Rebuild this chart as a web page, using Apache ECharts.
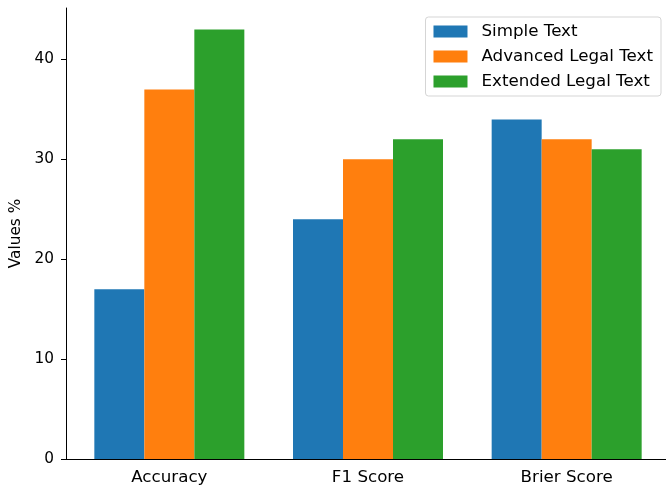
<!DOCTYPE html>
<html>
<head>
<meta charset="utf-8">
<script src="https://cdn.jsdelivr.net/npm/echarts@6/dist/echarts.min.js"></script>
<style>html,body{margin:0;padding:0;background:#fff;}#c{width:666px;height:487px;}</style>
</head>
<body>
<div id="c"></div>
<script>
const categories = ['Accuracy', 'F1 Score', 'Brier Score'];
const simpleText = [17, 24, 34];
const advancedLegalText = [37, 30, 32];
const extendedLegalText = [43, 32, 31];
const seriesNames = ['Simple Text', 'Advanced Legal Text', 'Extended Legal Text'];
const colors = ['#1f77b4', '#ff7f0e', '#2ca02c'];
const yTicks = [0, 10, 20, 30, 40];

const font = 'DejaVu Sans';
const chart = echarts.init(document.getElementById('c'), null, {renderer: 'canvas'});
const data = [simpleText, advancedLegalText, extendedLegalText];
chart.setOption({
  animation: false,
  backgroundColor: '#fff',
  textStyle: {fontFamily: font},
  grid: {left: 70, top: 8, bottom: 28, width: 598, containLabel: false},
  legend: {
    orient: 'vertical', right: 5, top: 17,
    padding: [6, 8, 6, 8],
    itemWidth: 34, itemHeight: 12, itemGap: 8,
    backgroundColor: '#fff', borderColor: '#d5d5d5', borderWidth: 1, borderRadius: 3,
    icon: 'rect',
    textStyle: {fontFamily: font, fontSize: 16.7, color: '#000', lineHeight: 17, padding: [0, 0, 0, 9]},
    data: seriesNames
  },
  xAxis: {
    type: 'category', data: categories,
    axisLine: {lineStyle: {color: '#000', width: 1}},
    axisTick: {alignWithLabel: true, length: 5, lineStyle: {color: '#000'}},
    axisLabel: {fontFamily: font, fontSize: 16.7, color: '#000', margin: 10}
  },
  yAxis: {
    type: 'value', min: 0, max: 45.15, interval: 10, offset: 4,
    name: 'Values %', nameLocation: 'middle', nameRotate: 90, nameGap: 41,
    nameTextStyle: {fontFamily: font, fontSize: 15.3, color: '#000'},
    splitLine: {show: false},
    axisLine: {show: true, lineStyle: {color: '#000', width: 1}},
    axisTick: {show: true, length: 5, lineStyle: {color: '#000'}},
    axisLabel: {fontFamily: font, fontSize: 15.3, color: '#000', margin: 12,
      formatter: v => (yTicks.indexOf(v) >= 0 ? String(v) : ''), showMaxLabel: false}
  },
  graphic: [{type: 'line', shape: {x1: 66, y1: 459.5, x2: 71, y2: 459.5}, style: {stroke: '#000', lineWidth: 1}}],
  series: seriesNames.map((n, i) => ({
    name: n, type: 'bar', data: data[i], barWidth: 50, barGap: '0%',
    itemStyle: {color: colors[i]}
  }))
});
</script>
</body>
</html>
